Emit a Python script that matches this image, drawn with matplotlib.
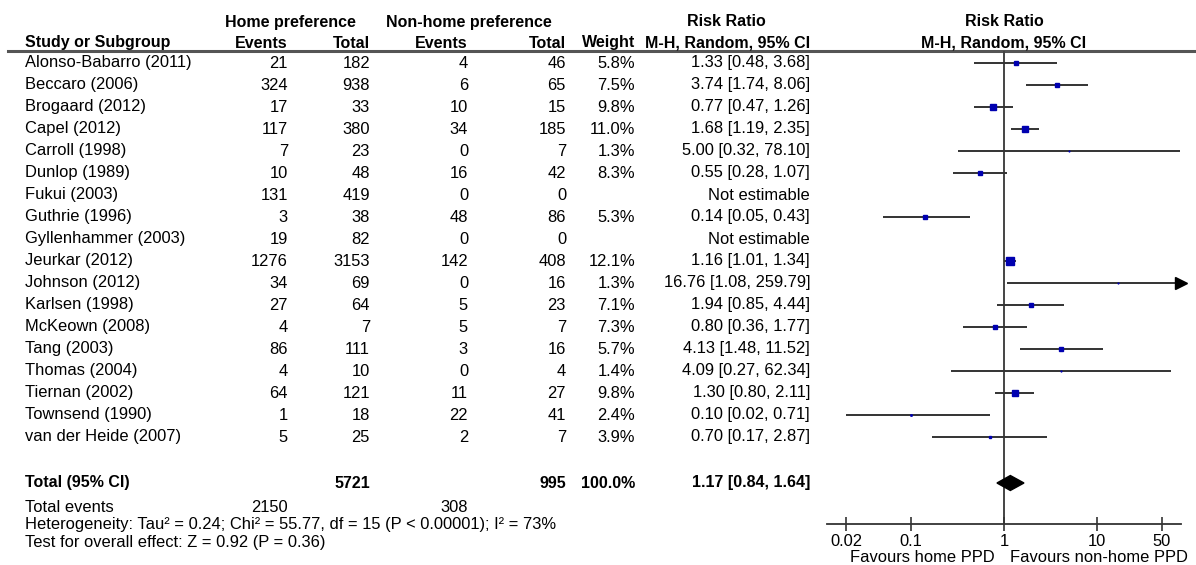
import matplotlib
matplotlib.use('Agg')
import matplotlib.pyplot as plt

# data
studies = ['Alonso-Babarro (2011)', 'Beccaro (2006)', 'Brogaard (2012)', 'Capel (2012)',
           'Carroll (1998)', 'Dunlop (1989)', 'Fukui (2003)', 'Guthrie (1996)',
           'Gyllenhammer (2003)', 'Jeurkar (2012)', 'Johnson (2012)', 'Karlsen (1998)',
           'McKeown (2008)', 'Tang (2003)', 'Thomas (2004)', 'Tiernan (2002)',
           'Townsend (1990)', 'van der Heide (2007)']
home_events = [21, 324, 17, 117, 7, 10, 131, 3, 19, 1276, 34, 27, 4, 86, 4, 64, 1, 5]
home_total = [182, 938, 33, 380, 23, 48, 419, 38, 82, 3153, 69, 64, 7, 111, 10, 121, 18, 25]
nonhome_events = [4, 6, 10, 34, 0, 16, 0, 48, 0, 142, 0, 5, 5, 3, 0, 11, 22, 2]
nonhome_total = [46, 65, 15, 185, 7, 42, 0, 86, 0, 408, 16, 23, 7, 16, 4, 27, 41, 7]
weight = [5.8, 7.5, 9.8, 11.0, 1.3, 8.3, None, 5.3, None, 12.1, 1.3, 7.1, 7.3, 5.7, 1.4, 9.8, 2.4, 3.9]
rr = [1.33, 3.74, 0.77, 1.68, 5.00, 0.55, None, 0.14, None, 1.16, 16.76, 1.94, 0.80, 4.13, 4.09, 1.30, 0.10, 0.70]
ci_low = [0.48, 1.74, 0.47, 1.19, 0.32, 0.28, None, 0.05, None, 1.01, 1.08, 0.85, 0.36, 1.48, 0.27, 0.80, 0.02, 0.17]
ci_high = [3.68, 8.06, 1.26, 2.35, 78.10, 1.07, None, 0.43, None, 1.34, 259.79, 4.44, 1.77, 11.52, 62.34, 2.11, 0.71, 2.87]

total_home, total_nonhome = 5721, 995
events_home, events_nonhome = 2150, 308
total_rr, total_low, total_high = 1.17, 0.84, 1.64
heterogeneity = 'Heterogeneity: Tau\u00b2 = 0.24; Chi\u00b2 = 55.77, df = 15 (P < 0.00001); I\u00b2 = 73%'
overall = 'Test for overall effect: Z = 0.92 (P = 0.36)'

ticks = [0.02, 0.1, 1, 10, 50]
tick_labels = ['0.02', '0.1', '1', '10', '50']
xmin, xmax = 1 / 80, 80

plt.rcParams['font.family'] = ['Liberation Sans', 'DejaVu Sans']
FS, FS_B = 11.9, 11.5

W, H = 1196, 565
fig = plt.figure(figsize=(W / 100, H / 100), dpi=100)
tab = fig.add_axes([0, 0, 1, 1])
tab.set_xlim(0, W)
tab.set_ylim(H, 0)
tab.axis('off')

ROW0, ROW_H = 63, 22
TOTAL_Y = 483
# right edges of the number columns
c_ev1, c_tot1, c_ev2, c_tot2, c_w, c_ci = 288, 370, 468, 566, 635, 810


def txt(x, y, s, ha='right', bold=False):
    tab.text(x, y, s, ha=ha, va='center', fontsize=FS_B if bold else FS,
             fontweight='bold' if bold else 'normal')


# headers
txt(290, 22, 'Home preference', ha='center', bold=True)
txt(469, 22, 'Non-home preference', ha='center', bold=True)
txt(726, 22, 'Risk Ratio', ha='center', bold=True)
txt(1004, 22, 'Risk Ratio', ha='center', bold=True)
txt(25, 43, 'Study or Subgroup', ha='left', bold=True)
for x, s in zip([c_ev1, c_tot1, c_ev2, c_tot2, c_w], ['Events', 'Total', 'Events', 'Total', 'Weight']):
    txt(x, 43, s, bold=True)
txt(c_ci, 43, 'M-H, Random, 95% CI', bold=True)
txt(1004, 43, 'M-H, Random, 95% CI', ha='center', bold=True)
tab.plot([8, W], [50.5, 50.5], color='#555555', lw=2.2)

# study rows
for i, name in enumerate(studies):
    y = ROW0 + ROW_H * i
    txt(25, y, name, ha='left')
    txt(c_ev1, y, str(home_events[i]))
    txt(c_tot1, y, str(home_total[i]))
    txt(c_ev2, y, str(nonhome_events[i]))
    txt(c_tot2, y, str(nonhome_total[i]))
    if rr[i] is None:
        txt(c_ci, y, 'Not estimable')
    else:
        txt(c_w, y, '%.1f%%' % weight[i])
        txt(c_ci, y, '%.2f [%.2f, %.2f]' % (rr[i], ci_low[i], ci_high[i]))

# totals
txt(25, TOTAL_Y, 'Total (95% CI)', ha='left', bold=True)
txt(c_tot1, TOTAL_Y, str(total_home), bold=True)
txt(c_tot2, TOTAL_Y, str(total_nonhome), bold=True)
txt(c_w, TOTAL_Y, '%.1f%%' % sum(w for w in weight if w is not None), bold=True)
txt(c_ci, TOTAL_Y, '%.2f [%.2f, %.2f]' % (total_rr, total_low, total_high), bold=True)
txt(25, 507, 'Total events', ha='left')
txt(c_ev1, 507, str(events_home))
txt(c_ev2, 507, str(events_nonhome))
txt(25, 525, heterogeneity, ha='left')
txt(25, 543, overall, ha='left')

# forest panel
ax_top, ax_bot, ax_l, ax_r = 50.5, 524, 827, 1181
ax = fig.add_axes([ax_l / W, (H - ax_bot) / H, (ax_r - ax_l) / W, (ax_bot - ax_top) / H])
ax.set_xscale('log')
ax.set_xlim(xmin, xmax)
ax.set_ylim((ax_bot - ROW0) / ROW_H, (ax_top - ROW0) / ROW_H)
ax.patch.set_alpha(0)
for s in ['top', 'right', 'left']:
    ax.spines[s].set_visible(False)
ax.spines['bottom'].set_color('#333333')
ax.spines['bottom'].set_linewidth(1.3)
ax.set_yticks([])
ax.set_xticks(ticks)
ax.set_xticklabels(tick_labels)
ax.minorticks_off()
ax.tick_params(axis='x', direction='inout', length=10, width=1.2, color='#333333',
               labelsize=FS, pad=2)
ax.axvline(1, color='#444444', lw=1.4, zorder=1)

for i in range(len(studies)):
    if rr[i] is None:
        continue
    hi = min(ci_high[i], xmax)
    lo = max(ci_low[i], xmin)
    ax.plot([lo, hi], [i, i], color='#333333', lw=1.4, solid_capstyle='butt', zorder=2)
    ax.plot(rr[i], i, marker='s', ms=0.42 * weight[i], color='#0000b0', zorder=3)
    if ci_high[i] > xmax:
        ax.plot(xmax, i, marker='>', ms=8, color='black', clip_on=False, zorder=3)

ty = (TOTAL_Y - ROW0) / ROW_H
ax.fill([total_low, total_rr, total_high, total_rr], [ty, ty - 0.34, ty, ty + 0.34],
        color='black', zorder=4)

txt(995, 557, 'Favours home PPD')
txt(1010, 557, 'Favours non-home PPD', ha='left')

fig.savefig('out.png', dpi=100)
